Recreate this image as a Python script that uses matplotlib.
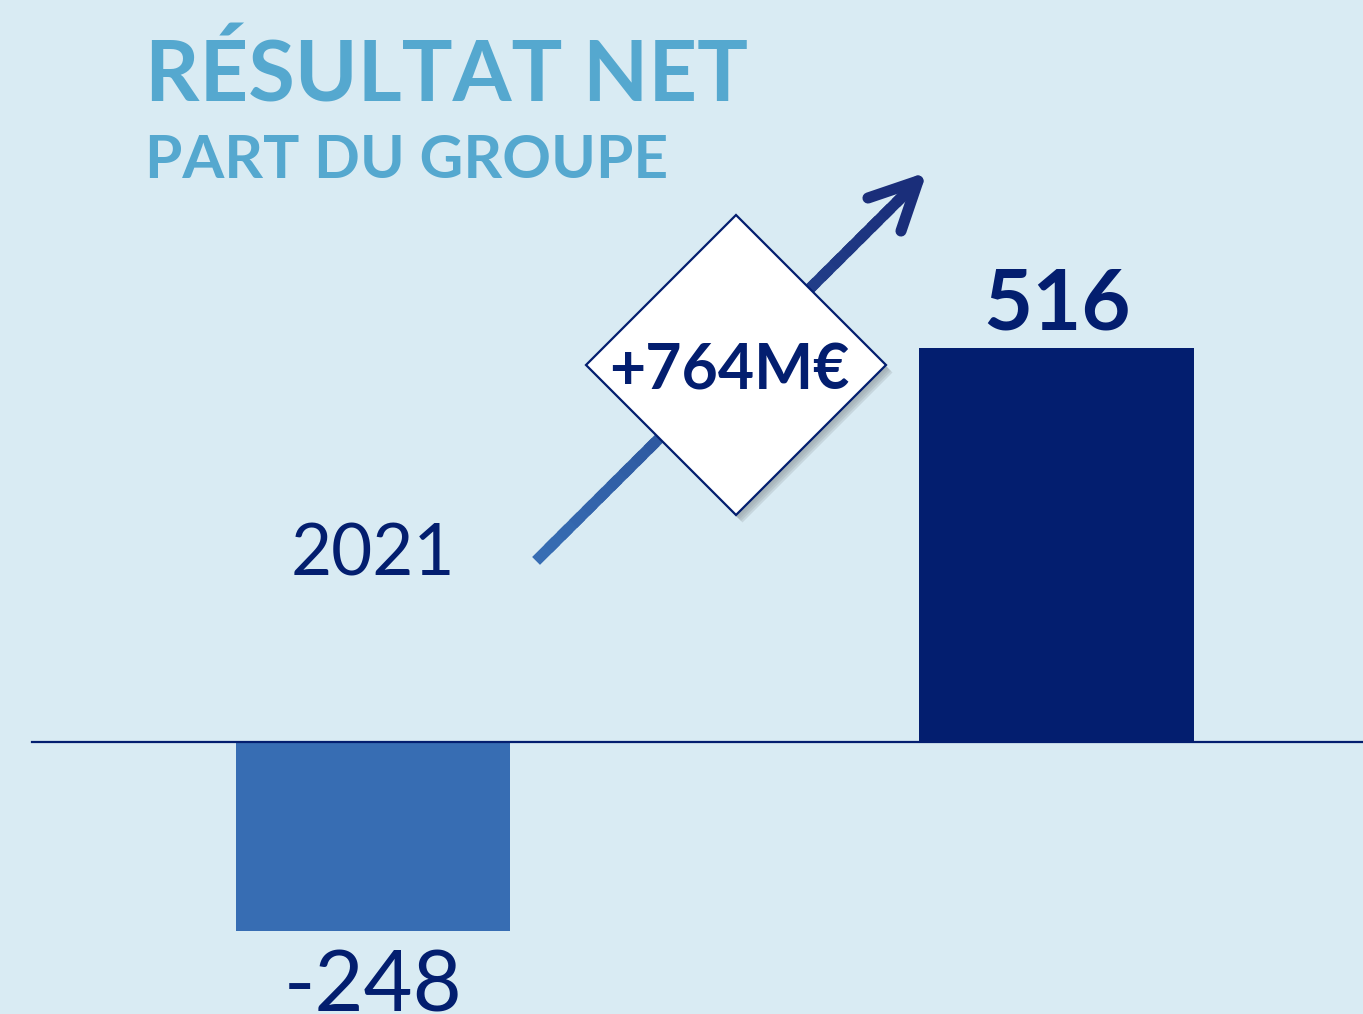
import numpy as np
import matplotlib
matplotlib.use("Agg")
import matplotlib.pyplot as plt
from matplotlib.patches import Polygon
from matplotlib.collections import LineCollection
from matplotlib.colors import to_rgb

# données
categories = ["2021", "2022"]
values = [-248, 516]
shown_year = "2021"
delta_label = "+764M€"
title = "RÉSULTAT NET"
subtitle = "PART DU GROUPE"

W, H = 1363, 1014
BG = "#D9EBF3"
TITLE_C = "#55A8CF"
NAVY = "#031E6F"
BAR_COLORS = ["#376DB3", "#031E6F"]

plt.rcParams["font.family"] = ["Lato", "DejaVu Sans"]

fig = plt.figure(figsize=(W / 100, H / 100), dpi=100)
fig.patch.set_facecolor(BG)
ax = fig.add_axes([0, 0, 1, 1])
ax.set_facecolor(BG)
ax.axis("off")

x = np.arange(len(categories))
ax.bar(x, values, width=0.401, color=BAR_COLORS, zorder=2)
ax.set_xlim(-0.5457, 1.4484)
ax.set_ylim(-356.2, 971.7)
ax.axhline(0, xmin=32 / W, xmax=1, color=NAVY, lw=1.6, zorder=3)

# étiquettes de valeurs
ax.annotate(f"{values[1]}", (x[1], values[1]), xytext=(0, 13), textcoords="offset points",
            ha="center", va="baseline", fontsize=61, fontweight="bold", color=NAVY)
ax.annotate(f"{values[0]}", (x[0], values[0]), xytext=(0, -12), textcoords="offset points",
            ha="center", va="top", fontsize=61, color=NAVY)
ax.text(x[0], 245, shown_year, ha="center", va="center", fontsize=51, color=NAVY)


def px(xp, yp):
    return (xp / W, 1 - yp / H)


tf = fig.transFigure

# titre
fig.text(*px(145, 102), title, fontsize=61, fontweight="bold", color=TITLE_C, va="baseline")
fig.text(*px(145, 178), subtitle, fontsize=43.5, fontweight="bold", color=TITLE_C, va="baseline")

# flèche dégradée
start, end = np.array(px(540, 557)), np.array(px(912, 187))
n = 30
pts = np.linspace(start, end, n + 1)
segs = np.stack([pts[:-1], pts[1:]], axis=1)
c0, c1 = np.array(to_rgb("#376DB3")), np.array(to_rgb("#1A2E7A"))
cols = [c0 + (c1 - c0) * t for t in np.linspace(0, 1, n)]
lc = LineCollection(segs, colors=cols, linewidths=8, transform=tf, capstyle="projecting")
ax.add_collection(lc)
tip = px(918, 181)
for arm in [px(868, 198), px(901, 231)]:
    ax.plot([arm[0], tip[0]], [arm[1], tip[1]], color="#1A2E7A", lw=8,
            solid_capstyle="round", transform=tf, zorder=4)

# losange
diamond = [px(586, 365), px(736, 215), px(886, 365), px(736, 515)]
for k, a in enumerate([0.05, 0.07, 0.09, 0.11]):
    off = 2 + k * 1.5
    sh = [(dx + off / W, dy - (off + 1) / H) for dx, dy in diamond]
    ax.add_patch(Polygon(sh, closed=True, facecolor="#303030", alpha=a,
                         edgecolor="none", transform=tf, zorder=5))
ax.add_patch(Polygon(diamond, closed=True, facecolor="white", edgecolor=NAVY,
                     lw=1.6, transform=tf, zorder=6))
fig.text(*px(729, 390), delta_label, fontsize=45, fontweight="bold", color=NAVY,
         ha="center", va="baseline", zorder=7)

fig.savefig("out.png", dpi=100, facecolor=BG)
